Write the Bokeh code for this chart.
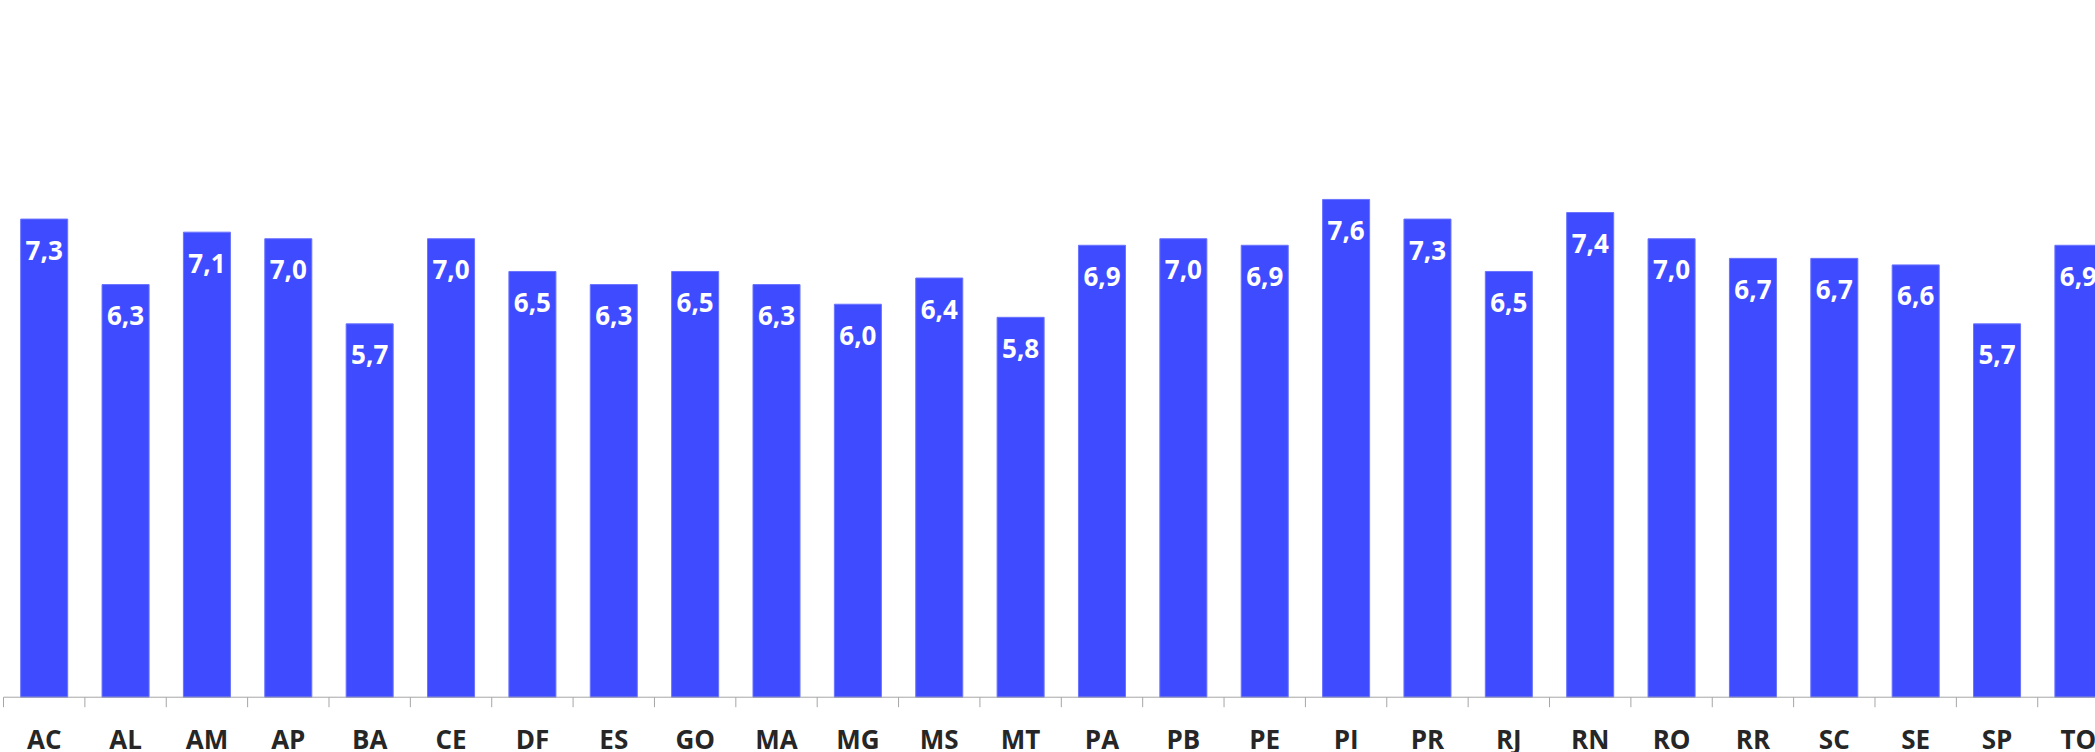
from bokeh.plotting import figure
from bokeh.models import ColumnDataSource, Range1d
from bokeh.core.properties import value
from bokeh.embed import file_html
from bokeh.resources import INLINE

# Average value per Brazilian state
states = ["AC", "AL", "AM", "AP", "BA", "CE", "DF", "ES", "GO", "MA", "MG", "MS", "MT",
          "PA", "PB", "PE", "PI", "PR", "RJ", "RN", "RO", "RR", "SC", "SE", "SP", "TO"]
values = [7.3, 6.3, 7.1, 7.0, 5.7, 7.0, 6.5, 6.3, 6.5, 6.3, 6.0, 6.4, 5.8,
          6.9, 7.0, 6.9, 7.6, 7.3, 6.5, 7.4, 7.0, 6.7, 6.7, 6.6, 5.7, 6.9]

BAR_COLOR = "#3F4BFF"
AXIS_COLOR = "#A6A6A6"
FONT = "Open Sans"

W, H = 2095, 752
Y_START, Y_END = -0.844, 10.637          # room below zero holds the category axis
PX = (Y_END - Y_START) / H               # data units per screen pixel (vertical)

n = len(states)
xs = [i + 0.5 for i in range(n)]
labels = [f"{v:.1f}".replace(".", ",") for v in values]
src = ColumnDataSource(dict(x=xs, top=values, label=labels, state=states,
                            zero=[0.0] * n))

p = figure(width=W, height=H, output_backend="svg", toolbar_location=None,
           x_range=Range1d(-0.037, 25.71), y_range=Range1d(Y_START, Y_END),
           min_border_left=0, min_border_right=0, min_border_top=0, min_border_bottom=0)
p.axis.visible = False
p.grid.visible = False
p.outline_line_color = None

p.vbar(x="x", top="top", width=0.578, bottom=0, source=src,
       fill_color=BAR_COLOR, line_color="#6A74FF", line_width=1)

# value labels inside the top of each bar
p.text(x="x", y="top", text="label", source=src,
       text_color="white", text_font=value(FONT), text_font_style="bold",
       text_font_size="26px", text_align="center", text_baseline="middle",
       y_offset=31)

# category axis: baseline, boundary ticks and state names
p.segment(x0=0, y0=0, x1=n, y1=0, line_color=AXIS_COLOR, line_width=1)
bounds = list(range(n + 1))
p.segment(x0=bounds, y0=[0.0] * (n + 1), x1=bounds, y1=[-10 * PX] * (n + 1),
          line_color=AXIS_COLOR, line_width=1)
p.text(x="x", y="zero", text="state", source=src,
       text_color="#262626", text_font=value(FONT), text_font_style="bold",
       text_font_size="26px", text_align="center", text_baseline="middle",
       y_offset=42)

open("out.html", "w").write(file_html(p, INLINE))
